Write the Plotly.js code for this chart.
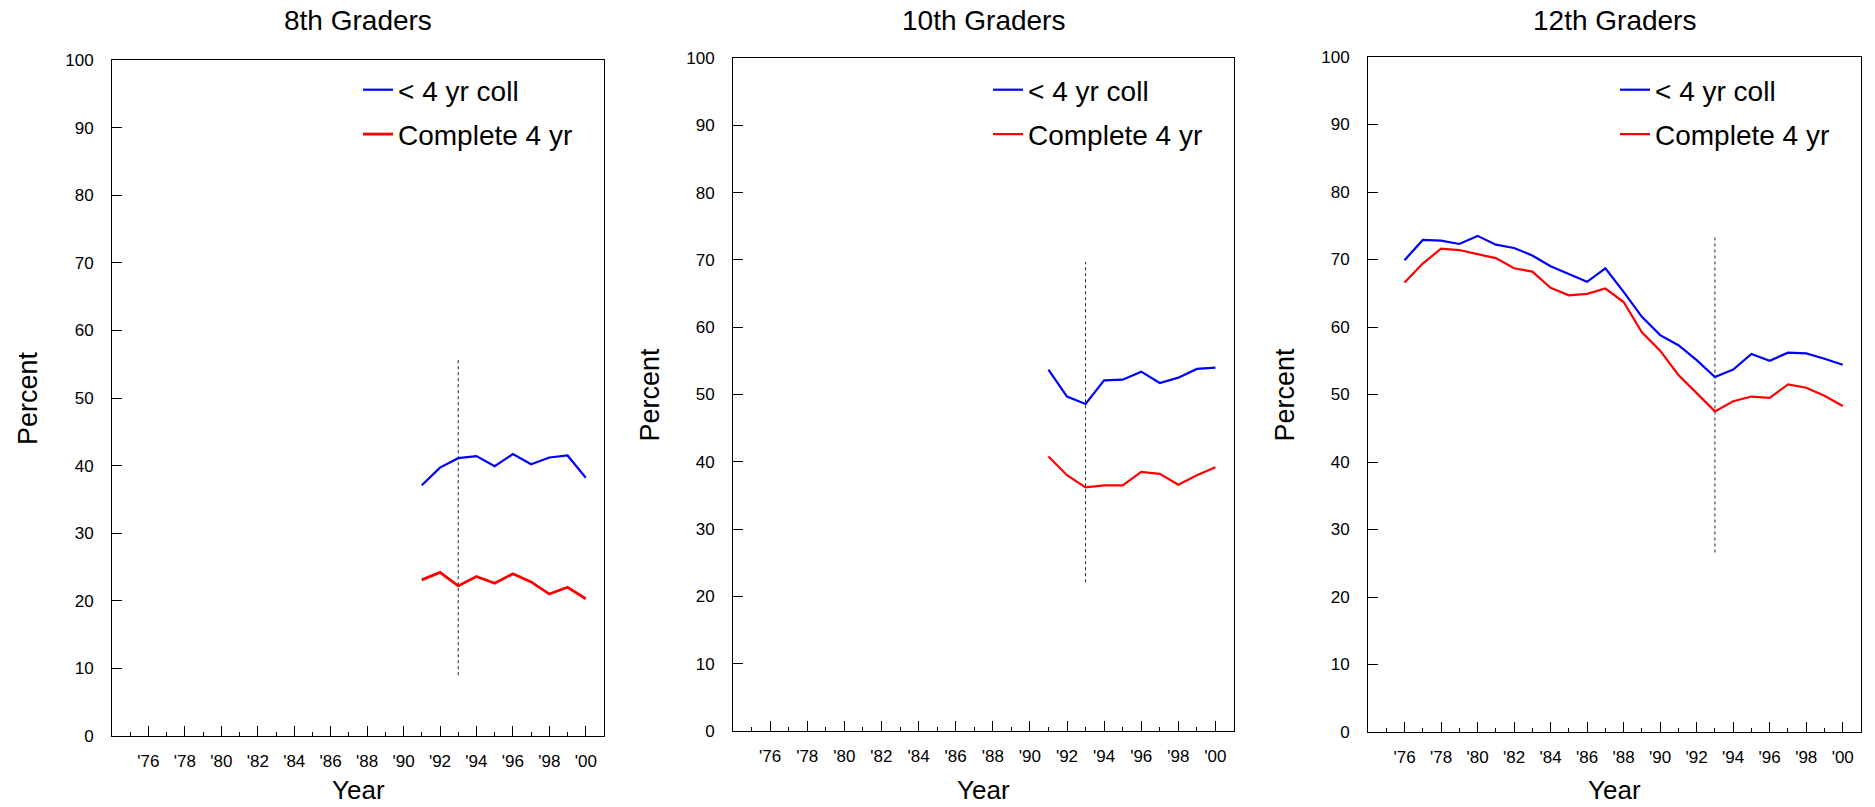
<!DOCTYPE html>
<html>
<head>
<meta charset="utf-8">
<script src="https://cdn.plot.ly/plotly-3.0.1.min.js"></script>
<style>
  html, body { margin: 0; padding: 0; background: #fff; }
  #chart { width: 1875px; height: 807px; }
</style>
</head>
<body>
<div id="chart"></div>
<script>
// ---- Data ----
const panelTitles = ["8th Graders", "10th Graders", "12th Graders"];
const seriesNames = ["< 4 yr coll", "Complete 4 yr"];

const years8 = [1991, 1992, 1993, 1994, 1995, 1996, 1997, 1998, 1999, 2000];
const lessThan4yr8 = [37.1, 39.7, 41.1, 41.4, 39.9, 41.7, 40.2, 41.2, 41.5, 38.2];
const complete4yr8 = [23.1, 24.2, 22.2, 23.6, 22.6, 24.0, 22.8, 21.0, 22.0, 20.3];

const years10 = [1991, 1992, 1993, 1994, 1995, 1996, 1997, 1998, 1999, 2000];
const lessThan4yr10 = [53.7, 49.7, 48.6, 52.1, 52.2, 53.4, 51.7, 52.5, 53.8, 54.0];
const complete4yr10 = [40.8, 38.0, 36.2, 36.5, 36.5, 38.5, 38.2, 36.6, 38.0, 39.2];

const years12 = [1976, 1977, 1978, 1979, 1980, 1981, 1982, 1983, 1984, 1985, 1986, 1987, 1988,
                 1989, 1990, 1991, 1992, 1993, 1994, 1995, 1996, 1997, 1998, 1999, 2000];
const lessThan4yr12 = [69.9, 72.9, 72.8, 72.3, 73.5, 72.2, 71.7, 70.6, 69.0, 67.9, 66.7, 68.7, 65.2,
                       61.5, 58.8, 57.3, 55.1, 52.6, 53.7, 56.0, 55.0, 56.2, 56.1, 55.3, 54.4];
const complete4yr12 = [66.6, 69.4, 71.6, 71.4, 70.8, 70.2, 68.7, 68.2, 65.8, 64.7, 64.9, 65.7, 63.7,
                       59.2, 56.5, 52.9, 50.2, 47.5, 49.0, 49.7, 49.5, 51.5, 51.0, 49.8, 48.3];

// Dotted marker line at 1993 (year, low, high) per panel
const markerYear = [1993, 1993];
const markerSpan8 = [9.0, 56.0];
const markerSpan10 = [22.1, 69.7];
const markerSpan12 = [26.6, 73.7];

// Axis ticks
const majorTickYears = [1976, 1978, 1980, 1982, 1984, 1986, 1988, 1990, 1992, 1994, 1996, 1998, 2000];
const majorTickLabels = ["'76", "'78", "'80", "'82", "'84", "'86", "'88", "'90", "'92", "'94", "'96", "'98", "'00"];
const minorTickYears = [1975, 1977, 1979, 1981, 1983, 1985, 1987, 1989, 1991, 1993, 1995, 1997, 1999];
const yTickVals = [0, 10, 20, 30, 40, 50, 60, 70, 80, 90, 100];

// ---- Layout helpers ----
const W = 1875, H = 807;
const FONT = "Liberation Sans, Arial, Helvetica, sans-serif";
const BLUE = "#0000ff", RED = "#ff0000";

// pixel boxes of the three plot areas [left, right, top, bottom]
const boxes = [
  [112, 604, 60, 736],
  [733, 1234, 58, 731],
  [1368, 1861, 57, 732]
];

const panels = [
  {x: years8, a: lessThan4yr8, b: complete4yr8, span: markerSpan8},
  {x: years10, a: lessThan4yr10, b: complete4yr10, span: markerSpan10},
  {x: years12, a: lessThan4yr12, b: complete4yr12, span: markerSpan12}
];

const traces = [];
const layout = {
  width: W, height: H,
  margin: {l: 0, r: 0, t: 0, b: 0},
  paper_bgcolor: "#ffffff",
  plot_bgcolor: "#ffffff",
  font: {family: FONT, color: "#000"},
  annotations: [],
  showlegend: true
};

panels.forEach((p, i) => {
  const n = i === 0 ? "" : String(i + 1);
  const xa = "x" + n, ya = "y" + n;
  const legendId = "legend" + n;
  const [L, R, T, B] = boxes[i];

  traces.push({
    x: markerYear, y: p.span, xaxis: xa, yaxis: ya, type: "scatter", mode: "lines",
    line: {color: "#222", width: 1, dash: "dot"}, showlegend: false, hoverinfo: "skip"
  });
  traces.push({
    x: p.x, y: p.a, xaxis: xa, yaxis: ya, type: "scatter", mode: "lines",
    name: seriesNames[0], legend: legendId, legendgroup: "a" + i,
    line: {color: BLUE, width: 2.2}
  });
  traces.push({
    x: p.x, y: p.b, xaxis: xa, yaxis: ya, type: "scatter", mode: "lines",
    name: seriesNames[1], legend: legendId, legendgroup: "b" + i,
    line: {color: RED, width: i === 0 ? 2.8 : 2.2}
  });

  layout["xaxis" + n] = {
    domain: [L / W, R / W],
    anchor: ya,
    range: [1974, 2001],
    tickmode: "array", tickvals: majorTickYears, ticktext: majorTickLabels,
    ticks: "inside", ticklen: 10, tickwidth: 1, tickcolor: "#000",
    minor: {tickmode: "array", tickvals: minorTickYears, ticks: "inside", ticklen: 4, tickwidth: 1, tickcolor: "#000"},
    ticklabelstandoff: 10,
    tickfont: {family: FONT, size: 17, color: "#000"},
    showline: true, mirror: true, linecolor: "#000", linewidth: 1,
    showgrid: false, zeroline: false, fixedrange: true
  };
  layout["yaxis" + n] = {
    domain: [1 - B / H, 1 - T / H],
    anchor: xa,
    range: [0, 100],
    tickmode: "array", tickvals: yTickVals,
    ticks: "inside", ticklen: 10, tickwidth: 1, tickcolor: "#000",
    ticklabelstandoff: 14,
    tickfont: {family: FONT, size: 17, color: "#000"},
    showline: true, mirror: true, linecolor: "#000", linewidth: 1,
    showgrid: false, zeroline: false, fixedrange: true
  };
  layout[legendId] = {
    x: (R - 246) / W, y: 1 - 65 / H, xanchor: "left", yanchor: "top",
    xref: "paper", yref: "paper",
    bgcolor: "rgba(0,0,0,0)", borderwidth: 0,
    font: {family: FONT, size: 28, color: "#000"},
    traceorder: "grouped", tracegroupgap: 5, itemwidth: 30
  };

  const cx = (L + R) / 2;
  layout.annotations.push({
    text: panelTitles[i], xref: "paper", yref: "paper",
    x: cx / W, y: 1 - 20 / H, xanchor: "center", yanchor: "middle",
    showarrow: false, font: {family: FONT, size: 28, color: "#000"}
  });
  layout.annotations.push({
    text: "Year", xref: "paper", yref: "paper",
    x: cx / W, y: 1 - 790 / H, xanchor: "center", yanchor: "middle",
    showarrow: false, font: {family: FONT, size: 26, color: "#000"}
  });
  layout.annotations.push({
    text: "Percent", xref: "paper", yref: "paper",
    x: (L - 84) / W, y: 1 - ((T + B) / 2) / H, xanchor: "center", yanchor: "middle",
    textangle: -90,
    showarrow: false, font: {family: FONT, size: 27, color: "#000"}
  });
});

Plotly.newPlot("chart", traces, layout, {displayModeBar: false, staticPlot: true});
</script>
</body>
</html>
